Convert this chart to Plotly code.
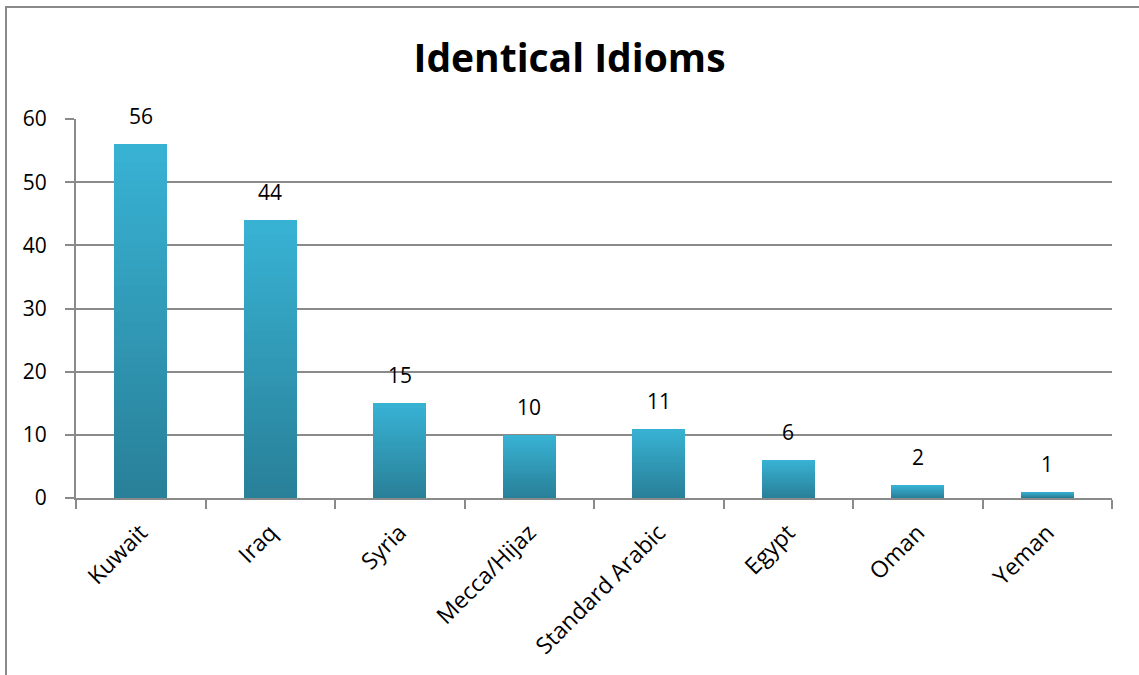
import plotly.graph_objects as go

categories = ["Kuwait", "Iraq", "Syria", "Mecca/Hijaz", "Standard Arabic", "Egypt", "Oman", "Yeman"]
values = [56, 44, 15, 10, 11, 6, 2, 1]
y_ticks = [0, 10, 20, 30, 40, 50, 60]

FONT = "Open Sans"
light = (56, 178, 211)
dark = (41, 128, 153)
N = 40

fig = go.Figure()
for k in range(N):
    t = k / (N - 1)
    c = tuple(round(light[i] + (dark[i] - light[i]) * t) for i in range(3))
    frac = (N - k) / N
    fig.add_trace(go.Bar(
        x=categories,
        y=[v * frac for v in values],
        marker=dict(color="rgb(%d,%d,%d)" % c, line=dict(width=0)),
        width=0.41,
        showlegend=False,
        hoverinfo="skip" if k else None,
        customdata=values,
        hovertemplate="%{x}: %{customdata}<extra></extra>",
    ))

for c, v in zip(categories, values):
    fig.add_annotation(x=c, y=v, text=str(v), showarrow=False, yanchor="bottom",
                       yshift=12, font=dict(family=FONT, size=21, color="black"))

# outer chart border (left and top visible)
L, R, T, B = 76, 27, 119, 177
W, H = 1139 - L - R, 675 - T - B
fig.add_shape(type="rect", xref="paper", yref="paper",
              x0=(6 - L) / W, x1=(1160 - L) / W, y0=(498 - 700) / H, y1=(498 - 7) / H,
              line=dict(color="#8a8a8a", width=2), layer="below")

fig.update_layout(
    barmode="overlay",
    bargap=0,
    width=1139, height=675,
    margin=dict(l=L, r=R, t=T, b=B),
    paper_bgcolor="white", plot_bgcolor="white",
    font=dict(family=FONT, size=21, color="black"),
    title=dict(text="<b>Identical Idioms</b>", x=0.5, xanchor="center", y=1 - 58 / 675,
               yanchor="middle", font=dict(family=FONT, size=39, color="black")),
)
fig.update_xaxes(type="category", tickangle=-45, tickson="boundaries", ticks="outside",
                 ticklen=9, tickcolor="#8a8a8a", tickwidth=2, showline=True, linecolor="#8a8a8a",
                 linewidth=2, showgrid=False, tickfont=dict(family=FONT, size=23),
                 ticklabelstandoff=10)
fig.update_yaxes(range=[0, 60], tickvals=y_ticks, ticks="outside", ticklen=9, tickcolor="#8a8a8a",
                 tickwidth=2, showline=True, linecolor="#8a8a8a", linewidth=2, showgrid=True,
                 gridcolor="#8a8a8a", gridwidth=1.5, zeroline=False, tickfont=dict(family=FONT, size=21),
                 ticklabelstandoff=14)

fig.write_html("out.html")
